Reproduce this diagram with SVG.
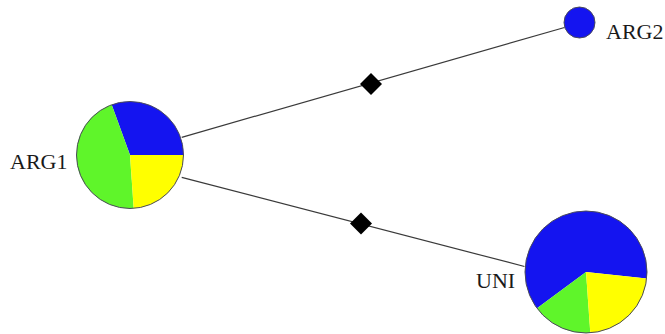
<svg xmlns="http://www.w3.org/2000/svg" width="665" height="334" viewBox="0 0 665 334">
  <style>
    .edge { stroke: #3a3a3a; stroke-width: 1.2; fill: none; }
    .mid { fill: #000000; }
    .rim { fill: none; stroke: #4a4a5a; stroke-width: 1; }
    .blue { fill: #1414f0; }
    .green { fill: #5ff52a; }
    .yellow { fill: #ffff00; }
    .label { font-family: "Liberation Serif", "Times New Roman", serif; font-size: 22px; fill: #1a1a1a; }
  </style>
  <rect width="665" height="334" fill="#ffffff"/>

  <!-- connectors with midpoint diamonds -->
  <g id="edges">
    <line class="edge" x1="181.7" y1="137.3" x2="564.5" y2="27.5"/>
    <polygon class="mid" points="371,73 382,84 371,95 360,84"/>
    <line class="edge" x1="181.7" y1="177.3" x2="524.5" y2="266.5"/>
    <polygon class="mid" points="361,212.5 372,223.5 361,234.5 350,223.5"/>
  </g>

  <!-- ARG1: three-way pie -->
  <g id="ARG1">
    <path class="blue" d="M130,155 L183.5,155 A53.5,53.5 0 0 0 111.7,104.7 Z"/>
    <path class="green" d="M130,155 L111.7,104.7 A53.5,53.5 0 0 0 133.7,208.4 Z"/>
    <path class="yellow" d="M130,155 L133.7,208.4 A53.5,53.5 0 0 0 183.5,155 Z"/>
    <circle class="rim" cx="130" cy="155" r="53.5"/>
    <text class="label" x="10" y="169">ARG1</text>
  </g>

  <!-- ARG2: single-colour node -->
  <g id="ARG2">
    <circle class="blue" cx="579.5" cy="22.5" r="15.5"/>
    <circle class="rim" cx="579.5" cy="22.5" r="15.5"/>
    <text class="label" x="606" y="39">ARG2</text>
  </g>

  <!-- UNI: three-way pie -->
  <g id="UNI">
    <path class="blue" d="M586,272 L646.7,278.4 A61,61 0 1 0 537,308.3 Z"/>
    <path class="green" d="M586,272 L537,308.3 A61,61 0 0 0 590.3,332.9 Z"/>
    <path class="yellow" d="M586,272 L590.3,332.9 A61,61 0 0 0 646.7,278.4 Z"/>
    <circle class="rim" cx="586" cy="272" r="61"/>
    <text class="label" x="476" y="287.5">UNI</text>
  </g>
</svg>
